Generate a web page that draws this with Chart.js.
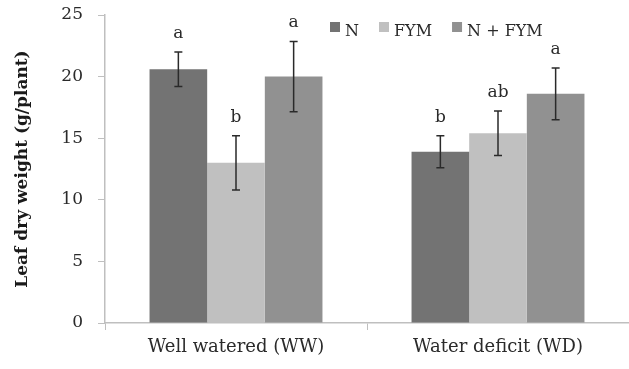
<!DOCTYPE html>
<html>
<head>
<meta charset="utf-8">
<script src="https://cdn.jsdelivr.net/npm/chart.js@4.4.1/dist/chart.umd.min.js"></script>
<style>
  html, body { margin: 0; padding: 0; background: #fff; }
  #wrap { width: 629px; height: 369px; position: relative; }
</style>
</head>
<body>
<div id="wrap"><canvas id="chart"></canvas></div>
<script>
// Data
const categories = ['Well watered (WW)', 'Water deficit (WD)'];
const seriesNames = ['N', 'FYM', 'N + FYM'];
const nValues = [20.6, 13.9];
const fymValues = [13.0, 15.4];
const nfymValues = [20.0, 18.6];
const nErrors = [1.4, 1.3];
const fymErrors = [2.2, 1.8];
const nfymErrors = [2.85, 2.1];
const nLetters = ['a', 'b'];
const fymLetters = ['b', 'ab'];
const nfymLetters = ['a', 'a'];
const yTicks = [0, 5, 10, 15, 20, 25];

const serif = '"DejaVu Serif", "Liberation Serif", serif';
const axisGray = '#bfbfbf';
const colors = ['#737373', '#c0c0c0', '#919191'];

const errors = [nErrors, fymErrors, nfymErrors];
const letters = [nLetters, fymLetters, nfymLetters];

// Error bars + significance letters
const errorBarPlugin = {
    id: 'errorBars',
    afterDatasetsDraw(chart) {
        const ctx = chart.ctx;
        const y = chart.scales.y;
        ctx.save();
        chart.data.datasets.forEach((ds, i) => {
            const meta = chart.getDatasetMeta(i);
            meta.data.forEach((bar, j) => {
                const v = ds.data[j];
                const e = errors[i][j];
                const top = y.getPixelForValue(v + e);
                const bot = y.getPixelForValue(v - e);
                ctx.strokeStyle = '#2a2a2a';
                ctx.lineWidth = 1.5;
                ctx.beginPath();
                ctx.moveTo(bar.x, top);
                ctx.lineTo(bar.x, bot);
                ctx.moveTo(bar.x - 4, top);
                ctx.lineTo(bar.x + 4, top);
                ctx.moveTo(bar.x - 4, bot);
                ctx.lineTo(bar.x + 4, bot);
                ctx.stroke();

                ctx.fillStyle = '#2a2a2a';
                ctx.font = '17px ' + serif;
                ctx.textAlign = 'center';
                ctx.textBaseline = 'alphabetic';
                ctx.fillText(letters[i][j], bar.x, top - 14);
            });
        });
        ctx.restore();
    }
};

// Legend drawn inside the plot, top right
const innerLegend = {
    id: 'innerLegend',
    afterDraw(chart) {
        const ctx = chart.ctx;
        ctx.save();
        ctx.font = '16px ' + serif;
        ctx.textBaseline = 'alphabetic';
        ctx.textAlign = 'left';
        let x = 330;
        chart.data.datasets.forEach(ds => {
            ctx.fillStyle = ds.backgroundColor;
            ctx.fillRect(x, 22, 10, 10);
            ctx.fillStyle = '#2a2a2a';
            ctx.fillText(ds.label, x + 15, 36);
            x += 15 + ctx.measureText(ds.label).width + 20;
        });
        ctx.restore();
    }
};

new Chart(document.getElementById('chart'), {
    type: 'bar',
    data: {
        labels: categories,
        datasets: [
            { label: seriesNames[0], data: nValues, backgroundColor: colors[0] },
            { label: seriesNames[1], data: fymValues, backgroundColor: colors[1] },
            { label: seriesNames[2], data: nfymValues, backgroundColor: colors[2] }
        ]
    },
    options: {
        responsive: true,
        maintainAspectRatio: false,
        animation: false,
        layout: { padding: { top: 15, right: 0, left: 0, bottom: 0 } },
        datasets: { bar: { categoryPercentage: 0.66, barPercentage: 1.0 } },
        plugins: {
            legend: { display: false },
            tooltip: { enabled: false }
        },
        scales: {
            x: {
                afterFit(scale) { scale.height = 46; },
                grid: {
                    drawOnChartArea: false,
                    drawTicks: true,
                    tickLength: 7,
                    color: axisGray,
                    offset: true
                },
                border: { color: axisGray, width: 1.5 },
                ticks: {
                    color: '#2a2a2a',
                    padding: 7,
                    font: { family: serif, size: 18 }
                }
            },
            y: {
                min: 0,
                max: 25,
                afterFit(scale) {
                    scale.width = 105;
                    // tick padding is horizontal only here, keep it out of the top/bottom
                    scale.paddingTop = 10;
                    scale.paddingBottom = 10;
                },
                afterBuildTicks(scale) { scale.ticks = yTicks.map(v => ({ value: v })); },
                grid: {
                    drawOnChartArea: false,
                    drawTicks: true,
                    tickLength: 7,
                    color: axisGray
                },
                border: { color: axisGray, width: 1.5 },
                ticks: {
                    color: '#2a2a2a',
                    padding: 15,
                    font: { family: serif, size: 17 }
                },
                title: {
                    display: true,
                    text: 'Leaf dry weight (g/plant)',
                    color: '#1a1a1a',
                    padding: { top: 12, bottom: 0 },
                    font: { family: serif, size: 17, weight: 'bold' }
                }
            }
        }
    },
    plugins: [errorBarPlugin, innerLegend]
});
</script>
</body>
</html>
